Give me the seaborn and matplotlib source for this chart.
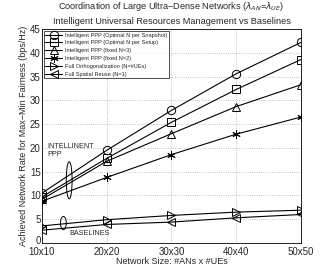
import matplotlib
matplotlib.use('Agg')
import matplotlib.pyplot as plt
import matplotlib.transforms as mtransforms
from matplotlib.patches import Ellipse
import seaborn as sns
import numpy as np

# ── Data ──
sizes = ["10x10", "20x20", "30x30", "40x40", "50x50"]
ppp_snapshot = [10.5, 19.5, 27.9, 35.6, 42.2]
ppp_setup = [9.7, 17.8, 25.4, 32.3, 38.6]
ppp_n3 = [9.2, 17.2, 23.0, 28.7, 33.3]
ppp_n2 = [8.8, 13.8, 18.6, 22.9, 26.5]
full_orth = [3.6, 4.9, 5.8, 6.5, 6.9]
full_reuse = [2.7, 3.9, 4.4, 5.3, 6.0]

series = [
    ("Intelligent PPP (Optimal N per Snapshot)", ppp_snapshot, "o"),
    ("Intelligent PPP (Optimal N per Setup)", ppp_setup, "s"),
    ("Intelligent PPP (fixed N=3)", ppp_n3, "^"),
    ("Intelligent PPP (fixed N=2)", ppp_n2, (6, 2, 0)),
    ("Full Orthogonalization (N=#UEs)", full_orth, ">"),
    ("Full Spatial Reuse (N=1)", full_reuse, "<"),
]

# ── Style ──
sns.set_theme(style="whitegrid")
plt.rcParams['font.family'] = ['Liberation Sans', 'DejaVu Sans']

fig = plt.figure(figsize=(3.32, 2.72), dpi=100)
ax = fig.add_axes([0.1265, 0.1066, 0.78, 0.7864])
ax.set_facecolor('white')

x = np.arange(len(sizes))
for label, vals, mk in series:
    sns.lineplot(x=x, y=vals, ax=ax, color='black', linewidth=0.8,
                 marker=mk, markersize=6,
                 markerfacecolor='none', markeredgecolor='black',
                 markeredgewidth=0.7, label=label)

ax.set_xlim(0, 4)
ax.set_ylim(0, 45)
ax.set_xticks(x)
ax.set_xticklabels(sizes)
ax.set_yticks(range(0, 46, 5))
ax.tick_params(labelsize=7, pad=1, length=2, direction='in')
ax.tick_params(axis='x', pad=3)
ax.grid(True, color='#b0b0b0', linestyle=':', linewidth=0.6)
for sp in ax.spines.values():
    sp.set_color('black')
    sp.set_linewidth(0.6)

# nudge the "0" label up a little so it clears "10x10"
zero_lbl = ax.get_yticklabels()[0]
zero_lbl.set_transform(zero_lbl.get_transform() +
                       mtransforms.ScaledTranslation(0, 2.5 / 72, fig.dpi_scale_trans))

ax.set_xlabel("Network Size: #ANs x #UEs", fontsize=6.5, labelpad=0)
ax.set_ylabel("Achieved Network Rate for Max\u2212Min Fairness (bps/Hz)", fontsize=6.5, labelpad=1)
ax.set_title("Coordination of Large Ultra\u2212Dense Networks ($\\lambda_{AN}$=$\\lambda_{UE}$)\n"
             "Intelligent Universal Resources Management vs Baselines",
             fontsize=6.6, pad=4, linespacing=1.45)

# annotations
ax.add_patch(Ellipse((0.42, 13.2), 0.09, 7.8, fill=False, edgecolor='black', linewidth=0.7))
ax.text(0.08, 19.5, "INTELLINENT\nPPP", fontsize=5.2, va='center', ha='left', linespacing=1.2)
ax.add_patch(Ellipse((0.33, 4.2), 0.09, 2.8, fill=False, edgecolor='black', linewidth=0.7))
ax.text(0.42, 2.1, "BASELINES", fontsize=5.2, va='center', ha='left')

leg = ax.legend(loc='upper left', fontsize=4.1, frameon=True, fancybox=False,
                edgecolor='black', handlelength=3, handletextpad=0.4,
                borderpad=0.3, labelspacing=0.5, borderaxespad=0.3)
leg.get_frame().set_linewidth(0.6)

fig.savefig("out.png", dpi=100)
